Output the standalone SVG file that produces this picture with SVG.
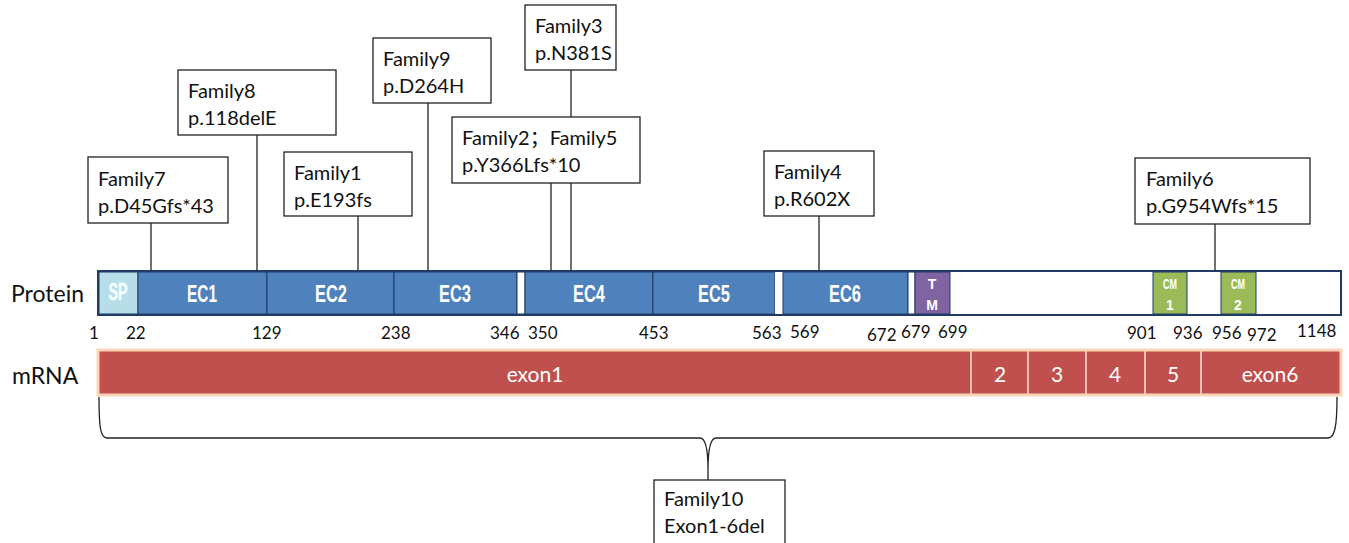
<svg xmlns="http://www.w3.org/2000/svg" width="1349" height="543" viewBox="0 0 1349 543">
<style>
.box{fill:#fff;stroke:#222;stroke-width:1.3}
.conn{stroke:#222;stroke-width:1.3;fill:none}
.ft{font-family:Lato,"Noto Sans CJK SC",sans-serif;font-size:20px;fill:#111}
.num{font-family:Lato,"Liberation Sans",sans-serif;font-size:17px;fill:#111}
.lbl{font-family:Lato,"Liberation Sans",sans-serif;font-size:23px;fill:#111}
.dom{stroke:#1f3b66;stroke-width:1}
.ec{fill:#4f81bd}
.dt{font-family:"Liberation Sans",sans-serif;font-weight:bold;font-size:23px;fill:#fff;text-anchor:middle}
.st{font-family:"Liberation Sans",sans-serif;font-weight:bold;font-size:14px;fill:#fff;text-anchor:middle}
.et{font-family:Lato,"Liberation Sans",sans-serif;font-size:21px;fill:#fff;text-anchor:middle}
.sep{stroke:#fbe3d3;stroke-width:1.5}
</style>
<rect width="1349" height="543" fill="#fff"/>
<text class="lbl" x="11" y="302">Protein</text>
<text class="lbl" x="12" y="384">mRNA</text>
<g id="protein">
<rect x="98" y="271" width="1243" height="44" fill="#fff" stroke="#1f3b66" stroke-width="2"/>
<rect class="dom" x="99" y="272" width="39" height="42" fill="#b7dde8"/>
<rect class="dom ec" x="138" y="272" width="129" height="42"/>
<rect class="dom ec" x="267" y="272" width="127" height="42"/>
<rect class="dom ec" x="394" y="272" width="123" height="42"/>
<rect class="dom" x="517" y="272" width="8" height="42" fill="#fff" stroke-width="1.5"/>
<rect class="dom ec" x="525" y="272" width="128" height="42"/>
<rect class="dom ec" x="653" y="272" width="122" height="42"/>
<rect x="775" y="272" width="8" height="42" fill="#fff"/>
<rect class="dom ec" x="783" y="272" width="125" height="42"/>
<rect class="dom" x="908" y="272" width="7" height="42" fill="#fff" stroke-width="1.5"/>
<rect class="dom" x="915" y="272" width="35" height="42" fill="#8064a2"/>
<rect class="dom" x="1153" y="272" width="34" height="42" fill="#9bbb59"/>
<rect class="dom" x="1221" y="272" width="35" height="42" fill="#9bbb59"/>
<rect x="98" y="271" width="1243" height="44" fill="none" stroke="#1f3b66" stroke-width="2"/>
<text class="dt" x="118" y="300" font-size="17" textLength="19" lengthAdjust="spacingAndGlyphs" stroke="#dff" stroke-width="0.6">SP</text>
<text class="dt" x="202" y="302" textLength="30" lengthAdjust="spacingAndGlyphs">EC1</text>
<text class="dt" x="331" y="302" textLength="32" lengthAdjust="spacingAndGlyphs">EC2</text>
<text class="dt" x="455" y="302" textLength="32" lengthAdjust="spacingAndGlyphs">EC3</text>
<text class="dt" x="589" y="302" textLength="32" lengthAdjust="spacingAndGlyphs">EC4</text>
<text class="dt" x="714" y="302" textLength="32" lengthAdjust="spacingAndGlyphs">EC5</text>
<text class="dt" x="845" y="302" textLength="32" lengthAdjust="spacingAndGlyphs">EC6</text>
<text class="st" x="932" y="289">T</text>
<text class="st" x="932" y="310">M</text>
<text class="st" x="1170" y="289" font-size="12" textLength="14" lengthAdjust="spacingAndGlyphs">CM</text>
<text class="st" x="1170" y="310" font-size="13">1</text>
<text class="st" x="1238" y="289" font-size="12" textLength="14" lengthAdjust="spacingAndGlyphs">CM</text>
<text class="st" x="1238" y="310" font-size="13">2</text>
</g>
<g id="positions" class="num">
<text x="89" y="339">1</text>
<text x="126" y="339">22</text>
<text x="252" y="339">129</text>
<text x="381" y="339">238</text>
<text x="490" y="339">346</text>
<text x="528" y="339">350</text>
<text x="639" y="339">453</text>
<text x="752" y="339">563</text>
<text x="790" y="338">569</text>
<text x="867" y="341">672</text>
<text x="901" y="338">679</text>
<text x="938" y="338">699</text>
<text x="1127" y="339">901</text>
<text x="1173" y="339">936</text>
<text x="1212" y="339">956</text>
<text x="1247" y="341">972</text>
<text x="1297" y="337">1148</text>
</g>
<g id="mrna">
<rect x="98" y="350" width="1243" height="45" fill="#c0504d" stroke="#fbd5b5" stroke-width="3"/>
<line class="sep" x1="971" y1="351" x2="971" y2="394"/>
<line class="sep" x1="1028" y1="351" x2="1028" y2="394"/>
<line class="sep" x1="1086" y1="351" x2="1086" y2="394"/>
<line class="sep" x1="1145" y1="351" x2="1145" y2="394"/>
<line class="sep" x1="1201" y1="351" x2="1201" y2="394"/>
<text class="et" x="535" y="382">exon1</text>
<text class="et" x="1000" y="382">2</text>
<text class="et" x="1057" y="382">3</text>
<text class="et" x="1115" y="382">4</text>
<text class="et" x="1173" y="382">5</text>
<text class="et" x="1270" y="382">exon6</text>
</g>
<g id="connectors">
<line class="conn" x1="151" y1="223" x2="151" y2="271"/>
<line class="conn" x1="257" y1="135" x2="257" y2="271"/>
<line class="conn" x1="358" y1="216" x2="358" y2="271"/>
<line class="conn" x1="428" y1="103" x2="428" y2="271"/>
<line class="conn" x1="571" y1="70" x2="571" y2="117"/>
<line class="conn" x1="551" y1="183" x2="551" y2="271"/>
<line class="conn" x1="571" y1="183" x2="571" y2="271"/>
<line class="conn" x1="819" y1="216" x2="819" y2="271"/>
<line class="conn" x1="1215" y1="224" x2="1215" y2="271"/>
<path class="conn" stroke="#333" stroke-width="1.5" d="M99,397 C99,425 100,438 107,438 L700,438 C706,438 708,450 708,470 L708,480 M708,470 C708,450 710,438 716,438 L1328,438 C1335,438 1337,425 1337,397"/>
</g>
<g id="family7"><rect class="box" x="88" y="157" width="140" height="66"/><text class="ft" x="98" y="186">Family7</text><text class="ft" x="98" y="213">p.D45Gfs*43</text></g>
<g id="family8"><rect class="box" x="178" y="70" width="158" height="65"/><text class="ft" x="188" y="98">Family8</text><text class="ft" x="188" y="125">p.118delE</text></g>
<g id="family1"><rect class="box" x="284" y="152" width="128" height="64"/><text class="ft" x="294" y="180">Family1</text><text class="ft" x="294" y="207">p.E193fs</text></g>
<g id="family9"><rect class="box" x="373" y="38" width="118" height="65"/><text class="ft" x="383" y="66">Family9</text><text class="ft" x="383" y="93">p.D264H</text></g>
<g id="family3"><rect class="box" x="525" y="5" width="91" height="65"/><text class="ft" x="535" y="33">Family3</text><text class="ft" x="535" y="60">p.N381S</text></g>
<g id="family2-5"><rect class="box" x="452" y="117" width="188" height="66"/><text class="ft" x="462" y="145">Family2<tspan font-family="Noto Sans CJK SC">；</tspan>Family5</text><text class="ft" x="462" y="172">p.Y366Lfs*10</text></g>
<g id="family4"><rect class="box" x="764" y="151" width="110" height="65"/><text class="ft" x="774" y="179">Family4</text><text class="ft" x="774" y="206">p.R602X</text></g>
<g id="family6"><rect class="box" x="1135" y="158" width="175" height="66"/><text class="ft" x="1146" y="186">Family6</text><text class="ft" x="1146" y="213">p.G954Wfs*15</text></g>
<g id="family10"><rect class="box" x="654" y="480" width="131" height="70"/><text class="ft" x="664" y="506">Family10</text><text class="ft" x="664" y="533">Exon1-6del</text></g>
</svg>
